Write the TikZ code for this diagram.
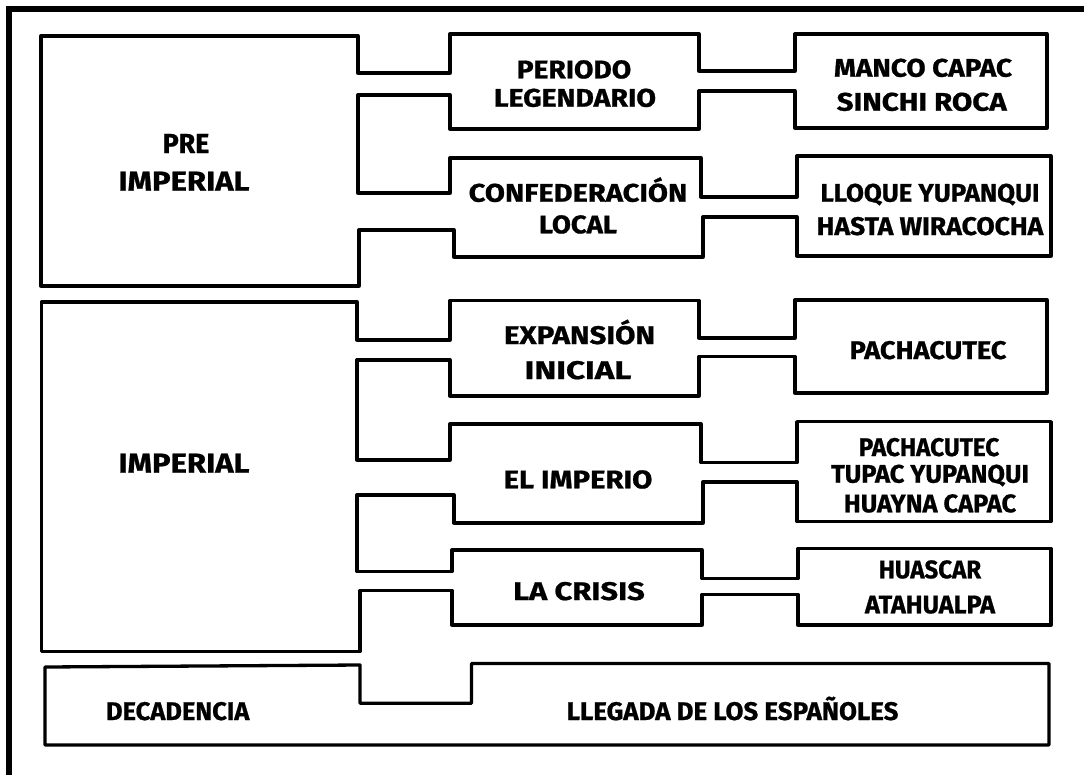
\documentclass[tikz,border=0pt]{standalone}
\usepackage{fontspec}
\setmainfont{Fira Sans}[BoldFeatures={FakeBold=0.8}]
\usepackage{graphicx}
\newcommand\fw[2]{\resizebox{#1pt}{\height}{#2}}
\tikzset{
  outline/.style={line width=3.3pt, line join=round},
  frameline/.style={line width=6pt},
  lbl/.style={anchor=base, inner sep=0pt, font=\fontsize{25.5}{30}\selectfont\bfseries},
  biglbl/.style={lbl, font=\fontsize{27.5}{32}\selectfont\bfseries},
}
\begin{document}
\begin{tikzpicture}[x=1pt,y=-1pt]
\useasboundingbox (0,0) rectangle (1084,774);
\begin{scope}
  \clip (0,0) rectangle (1084,774);
  \draw[frameline] (9,790) -- (9,9) -- (1100,9);
\end{scope}

% top group
\draw[outline] (41,36) -- (358,36) -- (358,73) -- (450,73) -- (450,34) -- (699,34)
  -- (699,71) -- (795,71) -- (795,34) -- (1047,34) -- (1047,128) -- (795,128)
  -- (795,91) -- (699,91) -- (699,129) -- (450,129) -- (450,95) -- (358,95)
  -- (358,193) -- (450,193) -- (450,158) -- (701,158) -- (701,197) -- (797,197)
  -- (797,156) -- (1051,156) -- (1051,256) -- (797,256) -- (797,217) -- (703,217)
  -- (703,257) -- (454,257) -- (454,230) -- (359,230) -- (359,286) -- (41,286) -- cycle;

% middle group
\draw[outline] (41.5,302) -- (357,302) -- (357,340) -- (450,340) -- (450,300.5) -- (699,300.5)
  -- (699,338) -- (795,338) -- (795,300) -- (1047,300) -- (1047,393) -- (795,393)
  -- (795,356.5) -- (699,356.5) -- (699,396) -- (450,396) -- (450,360) -- (357,360)
  -- (357,460) -- (450,460) -- (450,424) -- (701,424) -- (701,462.7) -- (797,462.7)
  -- (797,421.7) -- (1051,421.7) -- (1051,521.5) -- (797,521.5) -- (797,482) -- (703,482)
  -- (703,523) -- (454,523) -- (454,495) -- (357,495) -- (357,571.7) -- (452,571.7)
  -- (452,550) -- (702,550) -- (702,578.5) -- (798,578.5) -- (798,548.3) -- (1051,548.3)
  -- (1051,625) -- (798,625) -- (798,594.5) -- (702,594.5) -- (702,625) -- (452,625)
  -- (452,590.5) -- (360,590.5) -- (360,651.5) -- (41.5,651.5) -- cycle;

% bottom group
\draw[outline] (45,667) -- (360,665) -- (360,703.3) -- (471.5,703.3) -- (471.5,663.5)
  -- (1049,663.5) -- (1049,745) -- (45,745) -- cycle;

% labels
\node[biglbl] (pre1) at (186,153) {\fw{46.5}{PRE}};
\node[biglbl] (pre2) at (184,190.7) {\fw{131}{IMPERIAL}};
\node[lbl] (per1) at (574,78.3) {\fw{114.5}{PERIODO}};
\node[lbl] (per2) at (575,106.7) {\fw{162}{LEGENDARIO}};
\node[lbl] (con1) at (578,201.7) {\fw{218.5}{CONFEDERACIÓN}};
\node[lbl] (con2) at (578,233.3) {\fw{78}{LOCAL}};
\node[lbl] (man1) at (923,76.7) {\fw{178}{MANCO CAPAC}};
\node[lbl] (man2) at (921.7,110.7) {\fw{170}{SINCHI ROCA}};
\node[lbl] (llo1) at (930,201.7) {\fw{219}{LLOQUE YUPANQUI}};
\node[lbl] (llo2) at (930,235) {\fw{226.5}{HASTA WIRACOCHA}};
\node[lbl] (exp1) at (579.5,344) {\fw{151}{EXPANSIÓN}};
\node[lbl] (exp2) at (578,379) {\fw{106.7}{INICIAL}};
\node[lbl] (pac) at (928,359) {\fw{156.8}{PACHACUTEC}};
\node[biglbl] (imp) at (184,472.7) {\fw{131}{IMPERIAL}};
\node[lbl] (eli) at (578,488.3) {\fw{148.7}{EL IMPERIO}};
\node[lbl] (tri1) at (929,456) {\fw{140.5}{PACHACUTEC}};
\node[lbl] (tri2) at (930,482.7) {\fw{197.8}{TUPAC YUPANQUI}};
\node[lbl] (tri3) at (930,512.3) {\fw{172.3}{HUAYNA CAPAC}};
\node[lbl] (cri) at (579,600) {\fw{131.7}{LA CRISIS}};
\node[lbl] (hua1) at (930,578.3) {\fw{102.3}{HUASCAR}};
\node[lbl] (hua2) at (930,613.3) {\fw{130}{ATAHUALPA}};
\node[lbl] (dec) at (177.7,720) {\fw{143.3}{DECADENCIA}};
\node[lbl] (lle) at (732.6,720) {\fw{331.7}{LLEGADA DE LOS ESPAÑOLES}};
\end{tikzpicture}
\end{document}
